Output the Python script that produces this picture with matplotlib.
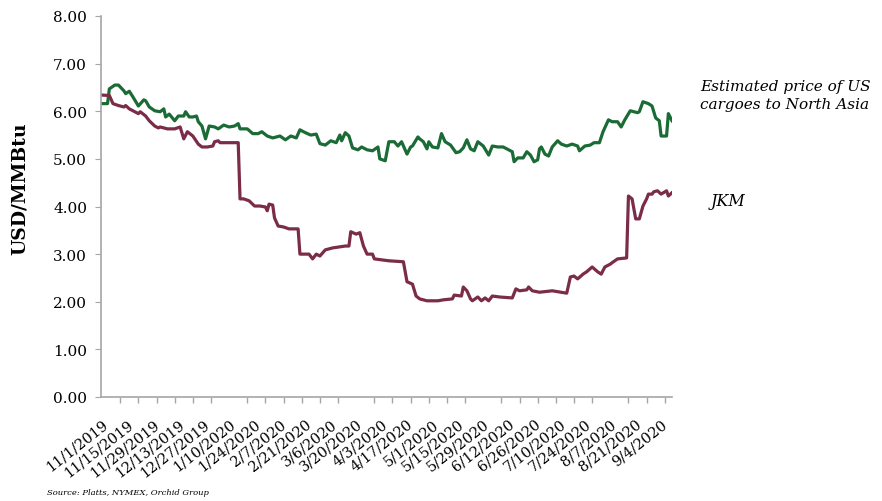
import matplotlib
matplotlib.use("Agg")
import matplotlib.pyplot as plt
import matplotlib.dates as mdates
import pandas as pd

# values, x as days after 11/1/2019
start = pd.Timestamp("2019-11-01")

us_days = [0, 3, 4, 7, 9, 12, 13, 15, 17, 20, 23, 24, 26, 29, 32, 34, 35, 37, 40, 42,
           45, 46, 48, 50, 52, 53, 55, 57, 59, 62, 64, 67, 70, 73, 75, 76, 80, 83, 86, 88,
           91, 94, 98, 101, 104, 107, 109, 112, 115, 118, 120, 123, 126, 129, 131, 132, 134, 136, 138, 141,
           143, 146, 149, 152, 153, 156, 158, 161, 163, 165, 168, 170, 171, 174, 175, 177, 179, 180, 182, 185,
           187, 189, 192, 195, 197, 199, 201, 203, 205, 207, 210, 213, 215, 218, 221, 224, 226, 227, 229, 232,
           234, 236, 238, 240, 241, 242, 244, 246, 248, 251, 253, 256, 259, 262, 263, 266, 269, 271, 274, 276,
           279, 281, 284, 286, 288, 291, 295, 296, 298, 301, 303, 305, 307, 308, 311, 312, 314]
us_price = [6.16, 6.16, 6.47, 6.55, 6.55, 6.43, 6.37, 6.42, 6.30, 6.11, 6.24, 6.22, 6.09, 6.01, 5.99, 6.05, 5.88, 5.94, 5.80, 5.90,
            5.90, 5.99, 5.88, 5.88, 5.90, 5.78, 5.69, 5.42, 5.69, 5.67, 5.63, 5.71, 5.67, 5.69, 5.74, 5.63, 5.63, 5.53, 5.53, 5.57,
            5.48, 5.44, 5.48, 5.40, 5.48, 5.44, 5.61, 5.55, 5.50, 5.52, 5.32, 5.29, 5.38, 5.34, 5.50, 5.38, 5.55, 5.48, 5.23, 5.19,
            5.25, 5.19, 5.17, 5.25, 5.00, 4.96, 5.36, 5.36, 5.27, 5.36, 5.10, 5.25, 5.27, 5.46, 5.42, 5.36, 5.21, 5.36, 5.25, 5.23,
            5.53, 5.36, 5.29, 5.13, 5.15, 5.23, 5.40, 5.21, 5.17, 5.36, 5.27, 5.08, 5.27, 5.25, 5.25, 5.19, 5.15, 4.94, 5.02, 5.02,
            5.15, 5.08, 4.94, 4.98, 5.21, 5.25, 5.10, 5.06, 5.25, 5.38, 5.31, 5.27, 5.31, 5.27, 5.17, 5.27, 5.29, 5.34, 5.34, 5.57,
            5.82, 5.78, 5.78, 5.67, 5.82, 6.01, 5.97, 5.99, 6.20, 6.16, 6.11, 5.86, 5.80, 5.48, 5.48, 5.95, 5.80]

jkm_days = [0, 4, 6, 9, 12, 13, 15, 18, 20, 21, 24, 26, 29, 31, 32, 36, 40, 43, 45, 47,
            50, 53, 55, 58, 61, 62, 64, 65, 67, 71, 75, 76, 78, 81, 84, 87, 90, 91, 92, 94,
            95, 97, 100, 103, 108, 109, 114, 116, 118, 120, 123, 127, 134, 136, 137, 140, 142, 144, 146, 149,
            150, 154, 158, 166, 168, 171, 173, 175, 179, 185, 188, 193, 194, 198, 199, 201, 203, 204, 207, 209,
            211, 213, 215, 219, 226, 228, 230, 234, 235, 237, 241, 248, 256, 258, 260, 262, 265, 267, 270, 273,
            275, 277, 280, 281, 284, 289, 290, 292, 294, 296, 298, 300, 301, 303, 304, 306, 308, 311, 312, 314]
jkm_price = [6.34, 6.33, 6.16, 6.12, 6.09, 6.12, 6.05, 5.99, 5.95, 5.99, 5.90, 5.80, 5.69, 5.65, 5.67, 5.63, 5.63, 5.67, 5.42, 5.57,
             5.48, 5.31, 5.25, 5.25, 5.27, 5.36, 5.38, 5.34, 5.34, 5.34, 5.34, 4.16, 4.16, 4.12, 4.01, 4.01, 3.99, 3.91, 4.05, 4.03,
             3.76, 3.59, 3.57, 3.53, 3.53, 3.00, 3.00, 2.90, 3.00, 2.96, 3.09, 3.13, 3.17, 3.17, 3.47, 3.42, 3.45, 3.17, 3.00, 3.00,
             2.90, 2.88, 2.86, 2.84, 2.42, 2.37, 2.12, 2.06, 2.02, 2.02, 2.04, 2.06, 2.14, 2.12, 2.31, 2.23, 2.06, 2.02, 2.10, 2.02,
             2.08, 2.02, 2.12, 2.10, 2.08, 2.27, 2.23, 2.25, 2.31, 2.23, 2.20, 2.23, 2.18, 2.52, 2.54, 2.48, 2.58, 2.63, 2.73, 2.63,
             2.58, 2.73, 2.79, 2.82, 2.90, 2.92, 4.22, 4.16, 3.74, 3.74, 4.01, 4.16, 4.26, 4.26, 4.31, 4.33, 4.26, 4.33, 4.22, 4.29]

tick_labels = ['11/1/2019', '11/15/2019', '11/29/2019', '12/13/2019', '12/27/2019', '1/10/2020',
               '1/24/2020', '2/7/2020', '2/21/2020', '3/6/2020', '3/20/2020', '4/3/2020',
               '4/17/2020', '5/1/2020', '5/15/2020', '5/29/2020', '6/12/2020', '6/26/2020',
               '7/10/2020', '7/24/2020', '8/7/2020', '8/21/2020', '9/4/2020']

us_dates = start + pd.to_timedelta(us_days, unit='D')
jkm_dates = start + pd.to_timedelta(jkm_days, unit='D')
tick_dates = pd.to_datetime(tick_labels, format='%m/%d/%Y')

plt.rcParams['font.family'] = 'DejaVu Serif'

fig = plt.figure(figsize=(8.82, 5.02), dpi=100)
ax = fig.add_axes([101 / 882, 1 - 398 / 502, 571 / 882, 381 / 502])

ax.plot(us_dates, us_price, color='#1b6b36', lw=2.3, solid_joinstyle='round')
ax.plot(jkm_dates, jkm_price, color='#7a2c48', lw=2.3, solid_joinstyle='round')

ax.set_ylim(0, 8)
ax.set_xlim(start - pd.Timedelta(days=0.6), start + pd.Timedelta(days=314))

for s in ['top', 'right']:
    ax.spines[s].set_visible(False)
for s in ['left', 'bottom']:
    ax.spines[s].set_color('#a6a6a6')
    ax.spines[s].set_linewidth(1.2)

ax.set_yticks(range(0, 9))
ax.set_yticklabels(['%.2f' % v for v in range(0, 9)], fontsize=11)
ax.tick_params(axis='y', length=4, color='#a6a6a6', pad=6)

# labels every two weeks, tick marks every ten days
ax.set_xticks(tick_dates)
ax.set_xticklabels(tick_labels, fontsize=10.5, rotation=38, ha='right', rotation_mode='anchor')
ax.tick_params(axis='x', which='major', length=0, pad=14)
minor = start + pd.to_timedelta(list(range(0, 311, 10)), unit='D')
ax.set_xticks(minor, minor=True)
ax.tick_params(axis='x', which='minor', length=4, color='#a6a6a6', width=1.0)

fig.text(20 / 882, 1 - 189 / 502, 'USD/MMBtu', rotation=90, fontsize=13.5,
         fontweight='bold', ha='center', va='center')

fig.text(700 / 882, 1 - 96 / 502, 'Estimated price of US\ncargoes to North Asia',
         fontsize=11, style='italic', ha='left', va='center', linespacing=1.45)
fig.text(711 / 882, 1 - 202 / 502, 'JKM', fontsize=11.5, style='italic', ha='left', va='center')
fig.text(47 / 882, 1 - 493 / 502, 'Source: Platts, NYMEX, Orchid Group', fontsize=6,
         style='italic', ha='left', va='center')

fig.savefig('out.png', dpi=100)
